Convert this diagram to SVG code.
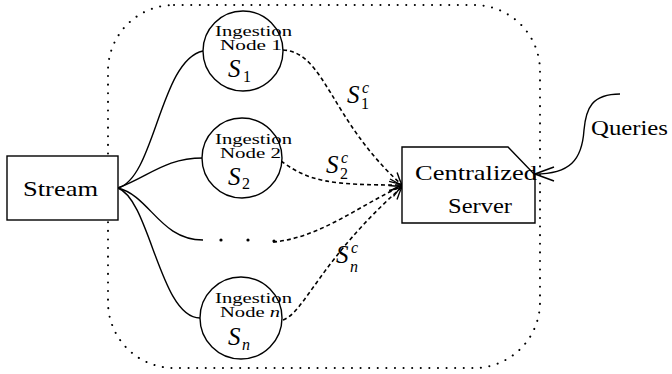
<svg xmlns="http://www.w3.org/2000/svg" width="672" height="374" viewBox="0 0 672 374">
  <style>
    .shape { fill: #fff; stroke: #000; stroke-width: 1.4; }
    .frame { fill: none; stroke: #000; stroke-width: 2; stroke-linecap: round; stroke-dasharray: 0.1 8.5; }
    .wire { fill: none; stroke: #000; stroke-width: 1.4; }
    .dash { fill: none; stroke: #000; stroke-width: 1.6; stroke-dasharray: 4 3; marker-end: url(#to); }
    .txt { font-family: "Liberation Serif", "Times New Roman", serif; fill: #000; }
    .big { font-size: 22px; }
    .small { font-size: 14px; }
    .math { font-size: 25px; font-style: italic; }
    .sub { font-size: 16px; }
    .sup { font-size: 16px; font-style: italic; }
  </style>
  <defs>
    <marker id="to" markerUnits="userSpaceOnUse" markerWidth="20" markerHeight="20" refX="14" refY="10" orient="auto" overflow="visible">
      <path d="M2,4 Q9,8 14,10 Q9,12 2,16" fill="none" stroke="#000" stroke-width="1.4"/>
    </marker>
    <marker id="toBig" markerUnits="userSpaceOnUse" markerWidth="24" markerHeight="24" refX="20" refY="12" orient="auto" overflow="visible">
      <path d="M1,5 Q12,9 20,12 Q12,15 1,19" fill="none" stroke="#000" stroke-width="1.5"/>
    </marker>
  </defs>

  <!-- dotted boundary of the ingestion system -->
  <rect class="frame" x="108" y="5" width="432" height="363" rx="66" ry="66"/>

  <!-- connectors -->
  <g id="connectors">
    <path class="wire" d="M118,188 C155,178 160,60 203,51"/>
    <path class="wire" d="M118,188 C150,176 165,158 203,158"/>
    <path class="wire" d="M118,188 C150,196 160,240 203,240"/>
    <path class="wire" d="M118,188 C150,200 160,318 200,318"/>
    <path class="dash" d="M283,50 C325,52 330,120 402,185"/>
    <path class="dash" d="M281,161 C310,182 330,185 402,185"/>
    <path class="dash" d="M273,242 C320,238 360,205 402,186"/>
    <path class="dash" d="M283,320 C305,312 320,260 402,187"/>
    <path class="wire" d="M620,94 C592,94 586,108 584,130 C582,160 570,174 535,174" marker-end="url(#toBig)"/>
    <circle cx="221" cy="240" r="1.6"/>
    <circle cx="248" cy="240" r="1.6"/>
    <circle cx="274" cy="241" r="1.6"/>
    <text class="txt math" x="347" y="103">S</text>
    <text class="txt sub" x="361" y="109">1</text>
    <text class="txt sup" x="362" y="93">c</text>
    <text class="txt math" x="326" y="173">S</text>
    <text class="txt sub" x="340" y="179">2</text>
    <text class="txt sup" x="341" y="163">c</text>
    <text class="txt math" x="336" y="263">S</text>
    <text class="txt sup" x="350" y="272">n</text>
    <text class="txt sup" x="351" y="253">c</text>
    <text class="txt big" x="591" y="135" textLength="77" lengthAdjust="spacingAndGlyphs">Queries</text>
  </g>

  <g id="stream">
    <rect class="shape" x="7" y="156" width="111" height="64"/>
    <text class="txt big" x="23" y="196" textLength="75" lengthAdjust="spacingAndGlyphs">Stream</text>
  </g>

  <g id="node1">
    <circle class="shape" cx="243" cy="51" r="40"/>
    <text class="txt small" x="215" y="36" textLength="77" lengthAdjust="spacingAndGlyphs">Ingestion</text>
    <text class="txt small" x="220" y="50" textLength="62" lengthAdjust="spacingAndGlyphs">Node 1</text>
    <text class="txt math" x="228" y="77">S</text>
    <text class="txt sub" x="243" y="82">1</text>
  </g>

  <g id="node2">
    <circle class="shape" cx="242" cy="158" r="40"/>
    <text class="txt small" x="215" y="144" textLength="77" lengthAdjust="spacingAndGlyphs">Ingestion</text>
    <text class="txt small" x="220" y="158" textLength="61" lengthAdjust="spacingAndGlyphs">Node 2</text>
    <text class="txt math" x="228" y="185">S</text>
    <text class="txt sub" x="242" y="189">2</text>
  </g>

  <g id="noden">
    <circle class="shape" cx="241" cy="318" r="41"/>
    <text class="txt small" x="215" y="303" textLength="77" lengthAdjust="spacingAndGlyphs">Ingestion</text>
    <text class="txt small" x="220" y="317" textLength="60" lengthAdjust="spacingAndGlyphs">Node <tspan font-style="italic">n</tspan></text>
    <text class="txt math" x="228" y="345">S</text>
    <text class="txt sup" x="242" y="350">n</text>
  </g>

  <g id="server">
    <path class="shape" d="M402,147 L508,147 L535,175 L535,223 L402,223 Z"/>
    <text class="txt big" x="415" y="180" textLength="122" lengthAdjust="spacingAndGlyphs">Centralized</text>
    <text class="txt big" x="448" y="213" textLength="64" lengthAdjust="spacingAndGlyphs">Server</text>
  </g>
</svg>
